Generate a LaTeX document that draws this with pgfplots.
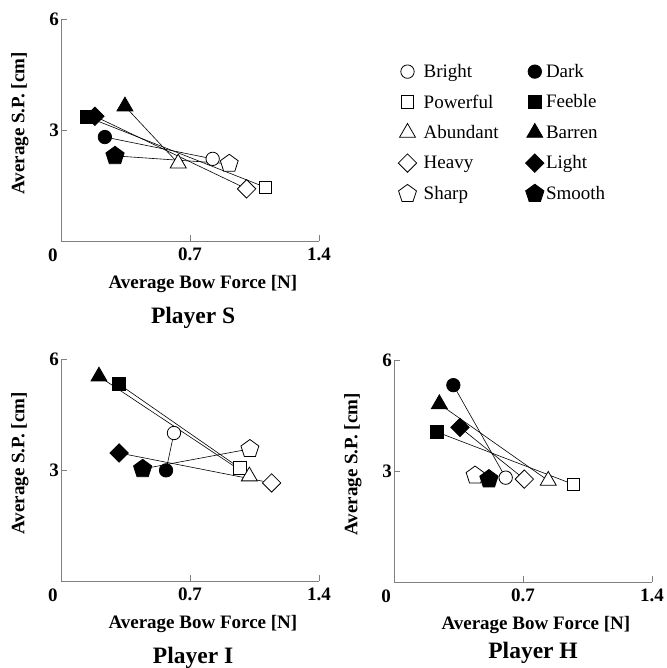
\documentclass[border=0pt]{standalone}
\usepackage{fontspec}
\setmainfont{Liberation Serif}
\usepackage{pgfplots}
\pgfplotsset{compat=1.18}
\newcommand{\lab}{\fontsize{19}{22}\selectfont\bfseries}
\pgfplotsset{
  panel/.style={
    scale only axis, width=258pt, height=222pt,
    xmin=0, xmax=1.4, ymin=0, ymax=6,
    axis x line*=bottom, axis y line*=left,
    axis line style={-, gray, line width=0.8pt},
    xtick={0.7,1.4}, ytick={3,6},
    tick align=inside, major tick length=6pt,
    tick style={gray, line width=0.8pt},
    /pgf/number format/assume math mode=true,
    ticklabel style={font=\lab, inner sep=0pt, text=black},
    xticklabel style={anchor=north, yshift=-7pt},
    yticklabel style={anchor=east, xshift=-2pt},
    xlabel={Average Bow Force [N]}, ylabel={Average S.P. [cm]},
    label style={font=\lab},
    xlabel style={at={(axis description cs:0.55,-0.195)}, anchor=center},
    ylabel style={at={(axis description cs:-0.159,0.53)}, anchor=center},
    title style={font=\fontsize{23.5}{26}\selectfont\bfseries, anchor=center},
    clip=false,
  },
  pair/.style={black, line width=0.6pt, mark=none, forget plot},
  openm/.style={only marks, mark options={fill=white, draw=black, line width=0.8pt}},
  fillm/.style={only marks, mark options={fill=black, draw=black, line width=0.8pt}},
  bright/.style={openm, mark=*, mark size=6.7pt},
  dark/.style={fillm, mark=*, mark size=6.7pt},
  powerful/.style={openm, mark=square*, mark size=6.3pt},
  feeble/.style={fillm, mark=square*, mark size=6.5pt},
  abundant/.style={openm, mark=triangle*, mark size=9.2pt},
  barren/.style={fillm, mark=triangle*, mark size=9.2pt},
  heavy/.style={only marks, mark=square*, mark size=6.5pt, mark options={rotate=45, fill=white, draw=black, line width=0.8pt}},
  light/.style={only marks, mark=square*, mark size=6.5pt, mark options={rotate=45, fill=black, draw=black, line width=0.8pt}},
  sharp/.style={openm, mark=pentagon*, mark size=9.4pt},
  smooth/.style={fillm, mark=pentagon*, mark size=9.6pt},
}
\begin{document}
\begin{tikzpicture}
\useasboundingbox (0pt,0pt) rectangle (666pt,-668pt);
% ---------------- Player S ----------------
\begin{axis}[panel, at={(61pt,-241pt)}, anchor=south west,
  title={Player S}, title style={at={(axis description cs:0.512,-0.375)}},
  legend columns=2, legend cell align=left,
  legend style={draw=none, fill=none, font=\fontsize{19}{22}\selectfont,
    at={(1.295,0.815)}, anchor=north west, row sep=11.75pt,
    /tikz/column 1/.style={column sep=5pt},
    /tikz/column 2/.style={column sep=25pt},
    /tikz/column 3/.style={column sep=0pt}}]
\addplot[pair] coordinates {(0.823,2.22) (0.238,2.81)};
\addplot[pair] coordinates {(1.110,1.45) (0.143,3.35)};
\addplot[pair] coordinates {(0.636,2.10) (0.347,3.64)};
\addplot[pair] coordinates {(1.007,1.41) (0.184,3.37)};
\addplot[pair] coordinates {(0.913,2.09) (0.293,2.30)};
\addplot[bright] coordinates {(0.823,2.22)}; \addlegendentry{Bright}
\addplot[dark] coordinates {(0.238,2.81)}; \addlegendentry{Dark}
\addplot[powerful] coordinates {(1.110,1.45)}; \addlegendentry{Powerful}
\addplot[feeble] coordinates {(0.143,3.35)}; \addlegendentry{Feeble}
\addplot[abundant] coordinates {(0.636,2.10)}; \addlegendentry{Abundant}
\addplot[barren] coordinates {(0.347,3.64)}; \addlegendentry{Barren}
\addplot[heavy] coordinates {(1.007,1.41)}; \addlegendentry{Heavy}
\addplot[light] coordinates {(0.184,3.37)}; \addlegendentry{Light}
\addplot[sharp] coordinates {(0.913,2.09)}; \addlegendentry{Sharp}
\addplot[smooth] coordinates {(0.293,2.30)}; \addlegendentry{Smooth}
\node[font=\lab, inner sep=0pt, xshift=-8pt, yshift=-14pt] at (axis cs:0,0) {0};
\end{axis}
% ---------------- Player I ----------------
\begin{axis}[panel, at={(61pt,-581pt)}, anchor=south west,
  title={Player I}, title style={at={(axis description cs:0.512,-0.375)}}]
\addplot[pair] coordinates {(0.613,4.00) (0.570,2.99)};
\addplot[pair] coordinates {(0.971,3.05) (0.315,5.32)};
\addplot[pair] coordinates {(1.022,2.83) (0.206,5.53)};
\addplot[pair] coordinates {(1.143,2.65) (0.315,3.46)};
\addplot[pair] coordinates {(1.025,3.57) (0.443,3.03)};
\addplot[bright] coordinates {(0.613,4.00)};
\addplot[dark] coordinates {(0.570,2.99)};
\addplot[powerful] coordinates {(0.971,3.05)};
\addplot[feeble] coordinates {(0.315,5.32)};
\addplot[abundant] coordinates {(1.022,2.83)};
\addplot[barren] coordinates {(0.206,5.53)};
\addplot[heavy] coordinates {(1.143,2.65)};
\addplot[light] coordinates {(0.315,3.46)};
\addplot[sharp] coordinates {(1.025,3.57)};
\addplot[smooth] coordinates {(0.443,3.03)};
\node[font=\lab, inner sep=0pt, xshift=-8pt, yshift=-14pt] at (axis cs:0,0) {0};
\end{axis}
% ---------------- Player H ----------------
\begin{axis}[panel, at={(394pt,-582pt)}, anchor=south west,
  title={Player H}, title style={at={(axis description cs:0.539,-0.348)}}]
\addplot[pair] coordinates {(0.606,2.82) (0.322,5.32)};
\addplot[pair] coordinates {(0.973,2.64) (0.235,4.05)};
\addplot[pair] coordinates {(0.837,2.74) (0.246,4.81)};
\addplot[pair] coordinates {(0.707,2.78) (0.358,4.18)};
\addplot[pair] coordinates {(0.440,2.88) (0.515,2.78)};
\addplot[bright] coordinates {(0.606,2.82)};
\addplot[dark] coordinates {(0.322,5.32)};
\addplot[powerful] coordinates {(0.973,2.64)};
\addplot[feeble] coordinates {(0.235,4.05)};
\addplot[abundant] coordinates {(0.837,2.74)};
\addplot[barren] coordinates {(0.246,4.81)};
\addplot[heavy] coordinates {(0.707,2.78)};
\addplot[light] coordinates {(0.358,4.18)};
\addplot[sharp] coordinates {(0.440,2.88)};
\addplot[smooth] coordinates {(0.515,2.78)};
\node[font=\lab, inner sep=0pt, xshift=-8pt, yshift=-14pt] at (axis cs:0,0) {0};
\end{axis}
\end{tikzpicture}
\end{document}
